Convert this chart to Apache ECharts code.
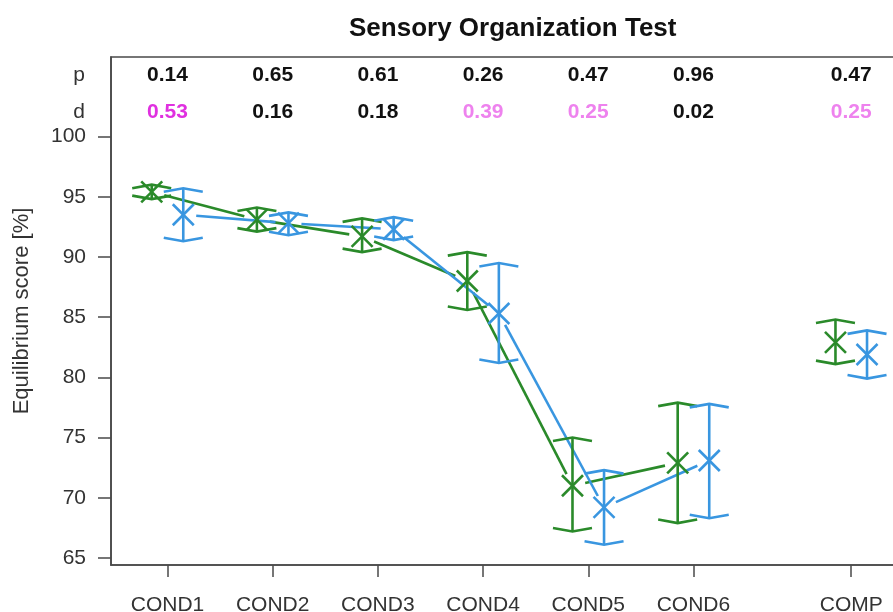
<!DOCTYPE html>
<html>
<head>
<meta charset="utf-8">
<script src="https://cdn.jsdelivr.net/npm/echarts@6/dist/echarts.min.js"></script>
<style>html,body{margin:0;padding:0;background:#fff;}#chart{width:893px;height:612px;}</style>
</head>
<body>
<div id="chart"></div>
<script>
// ---- data ----
const categories = ['COND1', 'COND2', 'COND3', 'COND4', 'COND5', 'COND6', 'COMP'];
const positions = [1, 2, 3, 4, 5, 6, 7.5];
const greenMean = [95.4, 93.1, 91.7, 88.0, 71.0, 72.9, 82.9];
const greenLow  = [94.8, 92.1, 90.4, 85.6, 67.2, 67.9, 81.1];
const greenHigh = [96.0, 94.1, 93.2, 90.4, 75.0, 77.9, 84.8];
const blueMean  = [93.5, 92.8, 92.3, 85.3, 69.2, 73.1, 81.9];
const blueLow   = [91.3, 91.8, 91.4, 81.2, 66.1, 68.3, 79.9];
const blueHigh  = [95.7, 93.7, 93.3, 89.5, 72.3, 77.8, 83.9];
const pValues = ['0.14', '0.65', '0.61', '0.26', '0.47', '0.96', '0.47'];
const dValues = ['0.53', '0.16', '0.18', '0.39', '0.25', '0.02', '0.25'];
const yTicks = [65, 70, 75, 80, 85, 90, 95, 100];
const connectedCount = 6; // COND1..COND6 joined by lines

// ---- layout / style ----
const X_MIN = 0.463, X_MAX = 8.049, Y_MIN = 64.42, Y_MAX = 106.6;
const P_ROW = 105.07, D_ROW = 101.99;
const OFFSET = 0.15;
const GREEN = '#2a8a2a', BLUE = '#3996e0';
const FONT = '"Liberation Sans", Arial, sans-serif';

function dColor(v) {
  const d = parseFloat(v);
  if (d >= 0.5) return '#e030e0';
  if (d >= 0.2) return '#ee82ee';
  return '#111';
}

function errRender(color) {
  return function (params, api) {
    const x = api.value(0), m = api.value(1), lo = api.value(2), hi = api.value(3);
    const c = api.coord([x, m]), pl = api.coord([x, lo]), ph = api.coord([x, hi]);
    const hw = 19.5, drop = 3.5, cr = 10.5;
    const st = () => ({ stroke: color, lineWidth: 2.6, fill: null, lineCap: 'butt' });
    return {
      type: 'group',
      children: [
        { type: 'line', shape: { x1: c[0], y1: pl[1], x2: c[0], y2: ph[1] }, style: st() },
        { type: 'polyline', shape: { points: [[c[0] - hw, ph[1] + drop], [c[0], ph[1]], [c[0] + hw, ph[1] + drop]] }, style: st() },
        { type: 'polyline', shape: { points: [[c[0] - hw, pl[1] - drop], [c[0], pl[1]], [c[0] + hw, pl[1] - drop]] }, style: st() },
        { type: 'line', shape: { x1: c[0] - cr, y1: c[1] - cr, x2: c[0] + cr, y2: c[1] + cr }, style: st() },
        { type: 'line', shape: { x1: c[0] - cr, y1: c[1] + cr, x2: c[0] + cr, y2: c[1] - cr }, style: st() }
      ]
    };
  };
}

function segRender(color) {
  return function (params, api) {
    const a = api.coord([api.value(0), api.value(1)]);
    const b = api.coord([api.value(2), api.value(3)]);
    const dx = b[0] - a[0], dy = b[1] - a[1], L = Math.hypot(dx, dy), g = 13;
    const ux = dx / L, uy = dy / L;
    return {
      type: 'line',
      shape: { x1: a[0] + ux * g, y1: a[1] + uy * g, x2: b[0] - ux * g, y2: b[1] - uy * g },
      style: { stroke: color, lineWidth: 2.6 }
    };
  };
}

function errData(mean, low, high, off) {
  return mean.map((m, i) => [positions[i] + off, m, low[i], high[i]]);
}
function segData(mean, off) {
  const out = [];
  for (let i = 0; i < connectedCount - 1; i++) {
    out.push([positions[i] + off, mean[i], positions[i + 1] + off, mean[i + 1]]);
  }
  return out;
}

const chart = echarts.init(document.getElementById('chart'), null, { renderer: 'canvas' });

const option = {
  backgroundColor: '#fff',
  animation: false,
  title: {
    text: 'Sensory Organization Test',
    left: 344,
    top: 11,
    textStyle: { fontFamily: FONT, fontSize: 26, fontWeight: 'bold', color: '#111' }
  },
  grid: {
    left: 111, top: 57, right: -16, bottom: 47,
    show: true, borderColor: '#4a4a4a', borderWidth: 1.6,
    containLabel: false, outerBoundsMode: 'none'
  },
  xAxis: {
    type: 'value', min: X_MIN, max: X_MAX,
    splitLine: { show: false },
    axisLine: { show: true, onZero: false, lineStyle: { color: '#4a4a4a', width: 1.6 } },
    axisTick: { show: true, inside: false, length: 12, customValues: positions, lineStyle: { color: '#4a4a4a', width: 1.5 } },
    axisLabel: {
      show: true, margin: 30, customValues: positions,
      fontFamily: FONT, fontSize: 21, color: '#333',
      formatter: function (v) {
        const i = positions.findIndex(p => Math.abs(p - v) < 1e-6);
        return i >= 0 ? categories[i] : '';
      }
    }
  },
  yAxis: {
    type: 'value', min: Y_MIN, max: Y_MAX,
    splitLine: { show: false },
    name: 'Equilibrium score [%]', nameLocation: 'middle', nameGap: 78, nameRotate: 90,
    nameTextStyle: { fontFamily: FONT, fontSize: 22, color: '#333', verticalAlign: 'bottom' },
    axisLine: { show: true, onZero: false, lineStyle: { color: '#4a4a4a', width: 1.6 } },
    axisTick: { show: true, inside: false, length: 13, customValues: yTicks, lineStyle: { color: '#4a4a4a', width: 1.5 } },
    axisLabel: { show: true, margin: 25, customValues: yTicks, fontFamily: FONT, fontSize: 21, color: '#333' }
  },
  series: [
    {
      type: 'custom', name: 'green-lines', renderItem: segRender(GREEN),
      data: segData(greenMean, -OFFSET), encode: { x: [0, 2], y: [1, 3] }, silent: true
    },
    {
      type: 'custom', name: 'blue-lines', renderItem: segRender(BLUE),
      data: segData(blueMean, OFFSET), encode: { x: [0, 2], y: [1, 3] }, silent: true
    },
    {
      type: 'custom', name: 'green', renderItem: errRender(GREEN),
      data: errData(greenMean, greenLow, greenHigh, -OFFSET), encode: { x: 0, y: [1, 2, 3] }, silent: true
    },
    {
      type: 'custom', name: 'blue', renderItem: errRender(BLUE),
      data: errData(blueMean, blueLow, blueHigh, OFFSET), encode: { x: 0, y: [1, 2, 3] }, silent: true
    },
    {
      type: 'custom', name: 'annotations', clip: false, silent: true,
      data: positions.map((p, i) => [p, i]),
      renderItem: function (params, api) {
        const x = api.value(0), i = api.value(1);
        const pp = api.coord([x, P_ROW]), dp = api.coord([x, D_ROW]);
        const children = [
          { type: 'text', x: pp[0], y: pp[1], style: { text: pValues[i], fill: '#111', font: 'bold 21px ' + FONT, align: 'center', verticalAlign: 'middle', textAlign: 'center', textVerticalAlign: 'middle' } },
          { type: 'text', x: dp[0], y: dp[1], style: { text: dValues[i], fill: dColor(dValues[i]), font: 'bold 21px ' + FONT, align: 'center', verticalAlign: 'middle', textAlign: 'center', textVerticalAlign: 'middle' } }
        ];
        if (i === 0) {
          const lx = api.coord([X_MIN, P_ROW])[0] - 26;
          children.push(
            { type: 'text', x: lx, y: pp[1], style: { text: 'p', fill: '#333', font: '21px ' + FONT, align: 'right', verticalAlign: 'middle', textAlign: 'right', textVerticalAlign: 'middle' } },
            { type: 'text', x: lx, y: dp[1], style: { text: 'd', fill: '#333', font: '21px ' + FONT, align: 'right', verticalAlign: 'middle', textAlign: 'right', textVerticalAlign: 'middle' } }
          );
        }
        return { type: 'group', children: children };
      }
    }
  ]
};
chart.setOption(option);
</script>
</body>
</html>
